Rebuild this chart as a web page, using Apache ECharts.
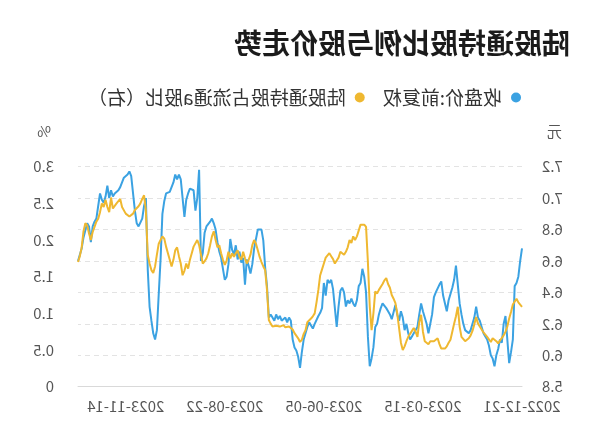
<!DOCTYPE html>
<html>
<head>
<meta charset="utf-8">
<script src="https://cdn.jsdelivr.net/npm/echarts@6/dist/echarts.min.js"></script>
<style>
html,body{margin:0;padding:0;background:#fff;}
#wrap{width:600px;height:446px;transform:scaleX(-1);transform-origin:300px 223px;}
#chart{width:600px;height:446px;}
</style>
</head>
<body>
<div id="wrap"><div id="chart"></div></div>
<script>
const titleText = '陆股通持股比例与股价走势';
const seriesNames = ['收盘价:前复权', '陆股通持股占流通a股比（右）'];
const dates = [
'2022-12-21','2022-12-22','2022-12-23','2022-12-26','2022-12-27','2022-12-28','2022-12-29','2022-12-30',
'2023-01-03','2023-01-04','2023-01-05','2023-01-06','2023-01-09','2023-01-10','2023-01-11','2023-01-12','2023-01-13','2023-01-16','2023-01-17','2023-01-18','2023-01-19','2023-01-20','2023-01-30','2023-01-31',
'2023-02-01','2023-02-02','2023-02-03','2023-02-06','2023-02-07','2023-02-08','2023-02-09','2023-02-10','2023-02-13','2023-02-14','2023-02-15','2023-02-16','2023-02-17','2023-02-20','2023-02-21','2023-02-22','2023-02-23','2023-02-24','2023-02-27','2023-02-28',
'2023-03-01','2023-03-02','2023-03-03','2023-03-06','2023-03-07','2023-03-08','2023-03-09','2023-03-10','2023-03-13','2023-03-14','2023-03-15','2023-03-16','2023-03-17','2023-03-20','2023-03-21','2023-03-22','2023-03-23','2023-03-24','2023-03-27','2023-03-28','2023-03-29','2023-03-30','2023-03-31',
'2023-04-03','2023-04-04','2023-04-06','2023-04-07','2023-04-10','2023-04-11','2023-04-12','2023-04-13','2023-04-14','2023-04-17','2023-04-18','2023-04-19','2023-04-20','2023-04-21','2023-04-24','2023-04-25','2023-04-26','2023-04-27','2023-04-28',
'2023-05-04','2023-05-05','2023-05-08','2023-05-09','2023-05-10','2023-05-11','2023-05-12','2023-05-15','2023-05-16','2023-05-17','2023-05-18','2023-05-19','2023-05-22','2023-05-23','2023-05-24','2023-05-25','2023-05-26','2023-05-29','2023-05-30','2023-05-31',
'2023-06-01','2023-06-02','2023-06-05','2023-06-06','2023-06-07','2023-06-08','2023-06-09','2023-06-12','2023-06-13','2023-06-14','2023-06-15','2023-06-16','2023-06-19','2023-06-20','2023-06-21','2023-06-26','2023-06-27','2023-06-28','2023-06-29','2023-06-30',
'2023-07-03','2023-07-04','2023-07-05','2023-07-06','2023-07-07','2023-07-10','2023-07-11','2023-07-12','2023-07-13','2023-07-14','2023-07-17','2023-07-18','2023-07-19','2023-07-20','2023-07-21','2023-07-24','2023-07-25','2023-07-26','2023-07-27','2023-07-28','2023-07-31',
'2023-08-01','2023-08-02','2023-08-03','2023-08-04','2023-08-07','2023-08-08','2023-08-09','2023-08-10','2023-08-11','2023-08-14','2023-08-15','2023-08-16','2023-08-17','2023-08-18','2023-08-21','2023-08-22','2023-08-23','2023-08-24','2023-08-25','2023-08-28','2023-08-29','2023-08-30','2023-08-31',
'2023-09-01','2023-09-04','2023-09-05','2023-09-06','2023-09-07','2023-09-08','2023-09-11','2023-09-12','2023-09-13','2023-09-14','2023-09-15','2023-09-18','2023-09-19','2023-09-20','2023-09-21','2023-09-22','2023-09-25','2023-09-26','2023-09-27','2023-09-28',
'2023-10-09','2023-10-10','2023-10-11','2023-10-12','2023-10-13','2023-10-16','2023-10-17','2023-10-18','2023-10-19','2023-10-20','2023-10-23','2023-10-24','2023-10-25','2023-10-26','2023-10-27','2023-10-30','2023-10-31',
'2023-11-01','2023-11-02','2023-11-03','2023-11-06','2023-11-07','2023-11-08','2023-11-09','2023-11-10','2023-11-13','2023-11-14','2023-11-15','2023-11-16','2023-11-17','2023-11-20','2023-11-21','2023-11-22','2023-11-23','2023-11-24','2023-11-27','2023-11-28','2023-11-29','2023-11-30',
'2023-12-01','2023-12-04','2023-12-05','2023-12-06','2023-12-07','2023-12-08','2023-12-11','2023-12-12','2023-12-13','2023-12-14','2023-12-15','2023-12-18','2023-12-19','2023-12-20'
];
const closePrice = [
6.68,6.60,6.50,6.46,6.44,6.10,6.02,5.95,6.10,6.25,
6.20,6.08,6.10,6.04,6.00,5.93,5.98,6.00,6.06,6.10,
6.12,6.14,6.18,6.22,6.24,6.31,6.24,6.20,6.16,6.14,
6.13,6.16,6.20,6.26,6.33,6.45,6.57,6.48,6.43,6.42,
6.35,6.28,6.28,6.38,6.47,6.45,6.44,6.40,6.37,6.26,
6.27,6.14,6.20,6.24,6.28,6.33,6.26,6.18,6.16,6.14,
6.12,6.10,6.14,6.20,6.16,6.24,6.28,6.22,6.26,6.32,
6.31,6.23,6.26,6.28,6.30,6.31,6.33,6.30,6.26,6.20,
6.18,6.05,5.98,5.93,6.12,6.40,6.50,6.55,6.46,6.44,
6.35,6.31,6.33,6.36,6.33,6.35,6.31,6.40,6.43,6.41,
6.31,6.18,6.30,6.42,6.48,6.46,6.48,6.38,6.46,6.30,
6.27,6.25,6.26,6.20,6.17,6.19,6.21,6.18,6.14,6.10,
6.02,5.92,5.99,6.03,6.05,6.10,6.22,6.24,6.21,6.24,
6.25,6.22,6.25,6.23,6.26,6.22,6.24,6.26,6.24,6.44,
6.56,6.73,6.80,6.81,6.80,6.74,6.68,6.58,6.52,6.57,
6.61,6.45,6.62,6.59,6.66,6.61,6.70,6.64,6.67,6.74,
6.58,6.50,6.48,6.55,6.62,6.66,6.72,6.80,6.84,6.87,
6.85,6.84,6.82,6.78,6.65,6.60,7.18,7.00,6.92,7.05,
7.06,7.06,7.03,6.99,6.88,7.00,7.12,7.15,7.12,7.15,
7.10,7.07,7.04,7.03,7.03,6.98,6.90,6.61,6.39,6.16,
6.10,6.14,6.22,6.31,6.55,7.00,6.95,6.87,6.86,6.82,
6.84,6.92,7.03,7.14,7.17,7.15,7.14,7.13,7.13,7.07,
7.05,7.04,7.03,7.01,7.05,7.00,7.08,7.01,6.97,6.99,
7.03,6.95,6.87,6.85,6.82,6.72,6.82,6.84,6.84,6.75,
6.68,6.64,6.60
];
const holdRatio = [
1.09,1.12,1.15,1.20,1.18,1.12,1.02,0.93,0.82,0.75,
0.70,0.68,0.63,0.59,0.62,0.64,0.66,0.61,0.63,0.68,
0.70,0.74,0.78,0.82,0.86,0.95,0.85,0.76,0.70,0.66,
0.64,0.62,0.61,0.68,0.82,1.09,0.96,0.86,0.75,0.64,
0.60,0.55,0.52,0.50,0.52,0.58,0.66,0.64,0.62,0.64,
0.62,0.58,0.57,0.62,0.75,0.98,0.88,0.68,0.75,0.80,
0.78,0.72,0.68,0.62,0.55,0.50,0.60,0.80,1.00,1.14,
1.20,1.25,1.35,1.40,1.48,1.45,1.40,1.38,1.32,1.27,
1.30,1.00,0.77,1.10,1.70,2.18,2.21,2.21,2.21,2.21,
2.05,2.00,2.05,1.96,2.00,1.90,1.84,1.80,1.78,1.84,
1.76,1.72,1.68,1.74,1.78,1.82,1.83,1.76,1.68,1.60,
1.52,1.32,1.15,1.00,0.96,0.93,0.91,0.88,0.77,0.72,
0.64,0.61,0.66,0.68,0.73,0.78,0.80,0.82,0.83,0.81,
0.84,0.83,0.82,0.84,0.83,0.84,0.82,0.86,0.91,1.32,
1.59,1.64,1.70,1.77,1.86,1.95,2.00,1.93,1.80,1.73,
1.68,1.75,1.84,1.73,1.77,1.86,1.82,1.77,1.82,1.75,
1.84,1.72,1.66,1.73,1.82,1.93,1.90,2.00,2.12,2.05,
1.93,1.82,1.75,1.71,1.68,1.70,1.93,2.00,1.98,1.91,
1.82,1.73,1.61,1.68,1.58,1.52,1.68,1.78,1.90,1.86,
1.73,1.64,1.73,1.82,1.91,2.02,2.05,2.00,1.95,1.80,
1.64,1.55,1.59,1.68,1.80,2.40,2.61,2.56,2.50,2.46,
2.45,2.41,2.36,2.34,2.32,2.34,2.36,2.34,2.45,2.56,
2.58,2.50,2.48,2.43,2.58,2.38,2.45,2.55,2.45,2.50,
2.38,2.29,2.25,2.18,2.11,2.00,2.09,2.20,2.23,2.12,
1.90,1.78,1.70
];
const priceAxisName = '元';
const ratioAxisName = '%';

const FONT = '"Noto Sans CJK SC", "Noto Sans", sans-serif';
const chart = echarts.init(document.getElementById('chart'));
chart.setOption({
  animation: false,
  backgroundColor: '#ffffff',
  textStyle: { fontFamily: FONT },
  color: ['#3ba2e2', '#efb830'],
  title: {
    text: titleText, left: 25, top: 24,
    textStyle: { fontSize: 28, fontWeight: 'bold', color: '#1b1b1b', fontFamily: FONT }
  },
  legend: {
    data: seriesNames, left: 74, top: 83, icon: 'circle',
    itemWidth: 10, itemHeight: 10, itemGap: 18,
    textStyle: { fontSize: 19, color: '#333', fontFamily: FONT, padding: [0, 0, 0, 4] }
  },
  grid: { left: 78, right: 78, top: 166.7, bottom: 59.3 },
  graphic: [
    { type: 'text', left: 38, top: 124, style: { text: priceAxisName, fontSize: 15, fill: '#555', fontFamily: FONT } },
    { type: 'text', left: 549, top: 124, style: { text: ratioAxisName, fontSize: 15, fill: '#555', fontFamily: FONT } }
  ],
  xAxis: {
    type: 'category', data: dates, boundaryGap: false,
    axisLine: { lineStyle: { color: '#d9d9d9' } },
    axisTick: { show: false },
    axisLabel: { interval: 53, color: '#555', fontSize: 15, margin: 12, fontFamily: FONT }
  },
  yAxis: [
    {
      type: 'value', min: 5.8, max: 7.2, interval: 0.2, position: 'left',
      axisLine: { show: false }, axisTick: { show: false },
      axisLabel: { color: '#555', fontSize: 15, margin: 20, fontFamily: FONT, formatter: v => v.toFixed(1) },
      splitLine: { lineStyle: { color: '#e3e3e3', type: [5, 4] } }
    },
    {
      type: 'value', min: 0, max: 3, interval: 0.5, position: 'right',
      axisLine: { show: false }, axisTick: { show: false },
      axisLabel: { color: '#555', fontSize: 15, margin: 24, fontFamily: FONT, formatter: v => v === 0 ? '0' : v.toFixed(1) },
      splitLine: { show: false }
    }
  ],
  series: [
    { name: seriesNames[0], type: 'line', yAxisIndex: 0, data: closePrice, showSymbol: false, lineStyle: { width: 2 } },
    { name: seriesNames[1], type: 'line', yAxisIndex: 1, data: holdRatio, showSymbol: false, lineStyle: { width: 2 } }
  ]
});
</script>
</body>
</html>
